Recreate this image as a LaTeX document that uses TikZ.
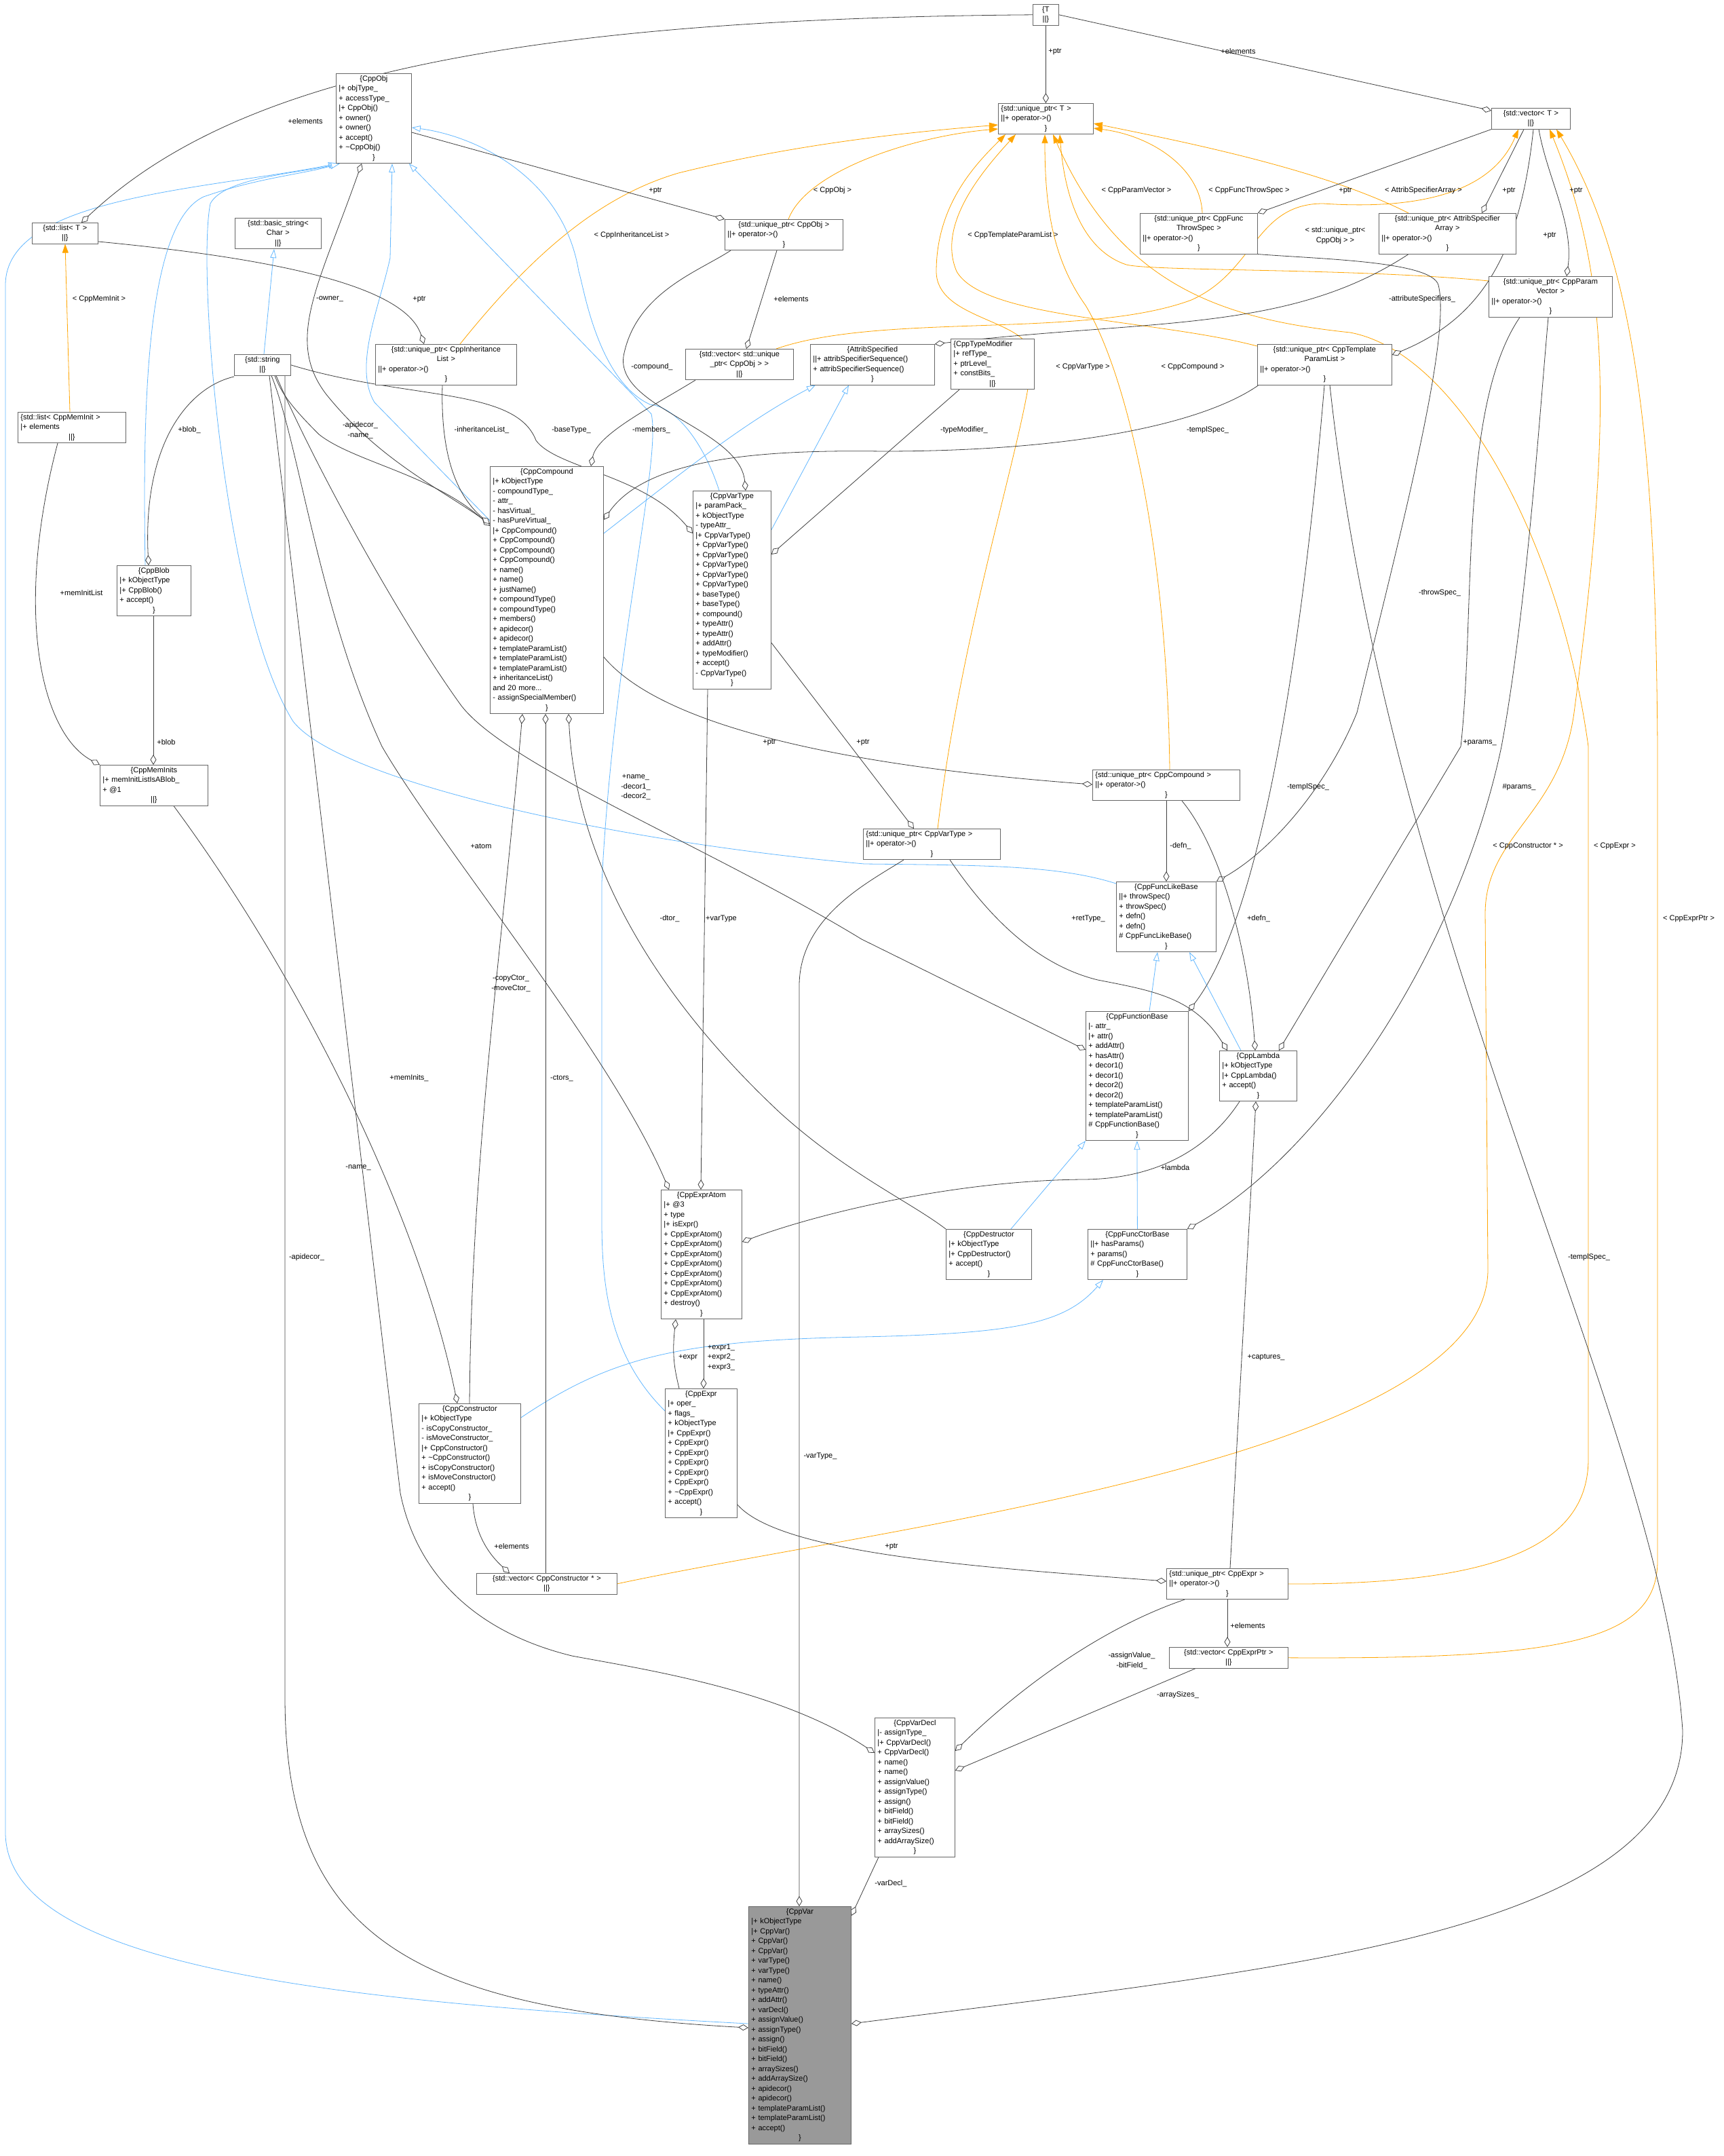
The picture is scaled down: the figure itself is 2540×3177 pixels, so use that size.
\documentclass[tikz,border=0pt]{standalone}
\usepackage{fontspec}
\setmainfont{Liberation Sans}
\usetikzlibrary{arrows.meta,backgrounds}
\newcommand\cl[1]{\makebox[\hsize][c]{#1}}
\definecolor{lk}{HTML}{404040}
\definecolor{lb}{HTML}{63B8FF}
\definecolor{lo}{HTML}{FFA500}
\begin{document}
\begin{tikzpicture}[x=1pt,y=-1pt,
 every node/.style={font=\fontsize{11}{14.5}\selectfont},
 box/.style={draw=black!60, fill=white, inner xsep=4pt, inner ysep=3pt, anchor=north west, align=left, line width=0.8pt},
 lbl/.style={align=center, inner sep=0pt},
 agg/.style={draw=lk, line width=0.8pt, {Diamond[open,length=15pt,width=9pt,fill=white]}-},
 inh/.style={draw=lb, line width=0.8pt, -{Triangle[open,length=13pt,width=9pt,fill=white]}},
 tmpl/.style={draw=lo, line width=0.8pt, -{Triangle[length=13pt,width=9pt]}}]
\useasboundingbox (0,0) rectangle (2540,3177);

% ---------- nodes ----------
\node[box,text width=30pt] (T) at (1522,6) {\cl{\{T}\\\cl{||\}}};
\node[box,text width=132pt] (uptrT) at (1471,152) {\{std::unique\_ptr< T >\\||+ operator->()\\\cl{\}}};
\node[box,text width=108pt] (vectorT) at (2198,159) {\cl{\{std::vector< T >}\\\cl{||\}}};
\node[box,text width=89pt] (listT) at (47,328) {\cl{\{std::list< T >}\\\cl{||\}}};
\node[box,text width=119pt] (bstr) at (346,321) {\cl{\{std::basic\_string<}\\\cl{Char >}\\\cl{||\}}};
\node[box,text width=103pt] (CppObj) at (495,108) {\cl{\{CppObj}\\|+ objType\_\\+ accessType\_\\|+ CppObj()\\+ owner()\\+ owner()\\+ accept()\\+ \textasciitilde CppObj()\\\cl{\}}};
\node[box,text width=166pt] (uptrObj) at (1068,323) {\cl{\{std::unique\_ptr< CppObj >}\\||+ operator->()\\\cl{\}}};
\node[box,text width=165pt] (uptrTS) at (1680,314) {\cl{\{std::unique\_ptr< CppFunc}\\\cl{ThrowSpec >}\\||+ operator->()\\\cl{\}}};
\node[box,text width=194pt] (uptrASA) at (2032,314) {\cl{\{std::unique\_ptr< AttribSpecifier}\\\cl{Array >}\\||+ operator->()\\\cl{\}}};
\node[box,text width=174pt] (uptrPV) at (2194,407) {\cl{\{std::unique\_ptr< CppParam}\\\cl{Vector >}\\||+ operator->()\\\cl{\}}};
\node[box,text width=200pt] (uptrInh) at (553,507) {\cl{\{std::unique\_ptr< CppInheritance}\\\cl{List >}\\||+ operator->()\\\cl{\}}};
\node[box,text width=75pt] (stdstr) at (345,522) {\cl{\{std::string}\\\cl{||\}}};
\node[box,text width=151pt] (vecObj) at (1010,514) {\cl{\{std::vector< std::unique}\\\cl{\_ptr< CppObj > >}\\\cl{||\}}};
\node[box,text width=175pt] (AttrSp) at (1194,507) {\cl{\{AttribSpecified}\\||+ attribSpecifierSequence()\\+ attribSpecifierSequence()\\\cl{\}}};
\node[box,text width=115pt] (TypeMod) at (1401,499) {\{CppTypeModifier\\|+ refType\_\\+ ptrLevel\_\\+ constBits\_\\\cl{||\}}};
\node[box,text width=190pt] (uptrTPL) at (1853,507) {\cl{\{std::unique\_ptr< CppTemplate}\\\cl{ParamList >}\\||+ operator->()\\\cl{\}}};
\node[box,text width=151pt] (listMI) at (26,607) {\{std::list< CppMemInit >\\|+ elements\\\cl{||\}}};
\node[box,text width=159pt] (Compound) at (722,687) {\cl{\{CppCompound}\\|+ kObjectType\\- compoundType\_\\- attr\_\\- hasVirtual\_\\- hasPureVirtual\_\\|+ CppCompound()\\+ CppCompound()\\+ CppCompound()\\+ CppCompound()\\+ name()\\+ name()\\+ justName()\\+ compoundType()\\+ compoundType()\\+ members()\\+ apidecor()\\+ apidecor()\\+ templateParamList()\\+ templateParamList()\\+ templateParamList()\\+ inheritanceList()\\and 20 more...\\- assignSpecialMember()\\\cl{\}}};
\node[box,text width=107pt] (VarType) at (1021,723) {\cl{\{CppVarType}\\|+ paramPack\_\\+ kObjectType\\- typeAttr\_\\|+ CppVarType()\\+ CppVarType()\\+ CppVarType()\\+ CppVarType()\\+ CppVarType()\\+ CppVarType()\\+ baseType()\\+ baseType()\\+ compound()\\+ typeAttr()\\+ typeAttr()\\+ addAttr()\\+ typeModifier()\\+ accept()\\- CppVarType()\\\cl{\}}};
\node[box,text width=101pt] (Blob) at (172,833) {\cl{\{CppBlob}\\|+ kObjectType\\|+ CppBlob()\\+ accept()\\\cl{\}}};
\node[box,text width=151pt] (MemInits) at (147,1127) {\cl{\{CppMemInits}\\|+ memInitListIsABlob\_\\+ @1\\\cl{||\}}};
\node[box,text width=209pt] (uptrComp) at (1610,1134) {\{std::unique\_ptr< CppCompound >\\||+ operator->()\\\cl{\}}};
\node[box,text width=194pt] (uptrVT) at (1272,1221) {\{std::unique\_ptr< CppVarType >\\||+ operator->()\\\cl{\}}};
\node[box,text width=139pt] (FLB) at (1645,1299) {\cl{\{CppFuncLikeBase}\\||+ throwSpec()\\+ throwSpec()\\+ defn()\\+ defn()\\\# CppFuncLikeBase()\\\cl{\}}};
\node[box,text width=143pt] (FB) at (1600,1490) {\cl{\{CppFunctionBase}\\|- attr\_\\|+ attr()\\+ addAttr()\\+ hasAttr()\\+ decor1()\\+ decor1()\\+ decor2()\\+ decor2()\\+ templateParamList()\\+ templateParamList()\\\# CppFunctionBase()\\\cl{\}}};
\node[box,text width=106pt] (Lambda) at (1797,1548) {\cl{\{CppLambda}\\|+ kObjectType\\|+ CppLambda()\\+ accept()\\\cl{\}}};
\node[box,text width=111pt] (ExprAtom) at (974,1753) {\cl{\{CppExprAtom}\\|+ @3\\+ type\\|+ isExpr()\\+ CppExprAtom()\\+ CppExprAtom()\\+ CppExprAtom()\\+ CppExprAtom()\\+ CppExprAtom()\\+ CppExprAtom()\\+ CppExprAtom()\\+ destroy()\\\cl{\}}};
\node[box,text width=118pt] (Dtor) at (1394,1811) {\cl{\{CppDestructor}\\|+ kObjectType\\|+ CppDestructor()\\+ accept()\\\cl{\}}};
\node[box,text width=138pt] (FCB) at (1603,1811) {\cl{\{CppFuncCtorBase}\\||+ hasParams()\\+ params()\\\# CppFuncCtorBase()\\\cl{\}}};
\node[box,text width=142pt] (Ctor) at (617,2068) {\cl{\{CppConstructor}\\|+ kObjectType\\- isCopyConstructor\_\\- isMoveConstructor\_\\|+ CppConstructor()\\+ \textasciitilde CppConstructor()\\+ isCopyConstructor()\\+ isMoveConstructor()\\+ accept()\\\cl{\}}};
\node[box,text width=98pt] (Expr) at (980,2046) {\cl{\{CppExpr}\\|+ oper\_\\+ flags\_\\+ kObjectType\\|+ CppExpr()\\+ CppExpr()\\+ CppExpr()\\+ CppExpr()\\+ CppExpr()\\+ CppExpr()\\+ \textasciitilde CppExpr()\\+ accept()\\\cl{\}}};
\node[box,text width=199pt] (vecCtor) at (702,2318) {\cl{\{std::vector< CppConstructor * >}\\\cl{||\}}};
\node[box,text width=171pt] (uptrExpr) at (1719,2311) {\{std::unique\_ptr< CppExpr >\\||+ operator->()\\\cl{\}}};
\node[box,text width=167pt] (vecEP) at (1723,2427) {\cl{\{std::vector< CppExprPtr >}\\\cl{||\}}};
\node[box,text width=110pt] (VarDecl) at (1289,2531) {\cl{\{CppVarDecl}\\|- assignType\_\\|+ CppVarDecl()\\+ CppVarDecl()\\+ name()\\+ name()\\+ assignValue()\\+ assignType()\\+ assign()\\+ bitField()\\+ bitField()\\+ arraySizes()\\+ addArraySize()\\\cl{\}}};
\node[box,text width=143pt,fill=black!40] (CppVar) at (1103,2809) {\cl{\{CppVar}\\|+ kObjectType\\|+ CppVar()\\+ CppVar()\\+ CppVar()\\+ varType()\\+ varType()\\+ name()\\+ typeAttr()\\+ addAttr()\\+ varDecl()\\+ assignValue()\\+ assignType()\\+ assign()\\+ bitField()\\+ bitField()\\+ arraySizes()\\+ addArraySize()\\+ apidecor()\\+ apidecor()\\+ templateParamList()\\+ templateParamList()\\+ accept()\\\cl{\}}};

\begin{scope}[on background layer]
\fill[white] (0,0) rectangle (2540,3177);
% ---------- template (orange) ----------
\draw[tmpl] ([xshift=77pt]listMI.north west) -- ([xshift=49pt]listT.south west);
\draw[tmpl] ([xshift=125pt]uptrInh.north west) .. controls (780,380) and (880,290) .. (1000,255) .. controls (1200,205) and (1400,190) .. ([yshift=-32pt]uptrT.north west);
\draw[tmpl] ([xshift=94pt]uptrObj.north west) .. controls (1190,250) and (1350,200) .. ([yshift=-38pt]uptrT.north west);
\draw[tmpl] ([xshift=110pt]uptrVT.north west) .. controls (1420,900) and (1525,600) .. (1520,520) .. controls (1510,470) and (1380,470) .. (1380,400) .. controls (1380,300) and (1440,240) .. ([xshift=11pt]uptrT.south west);
\draw[tmpl] ([yshift=-3pt]uptrTPL.north west) .. controls (1700,470) and (1450,470) .. (1410,400) .. controls (1380,330) and (1450,250) .. ([xshift=26pt]uptrT.south west);
\draw[tmpl] ([xshift=114pt]uptrComp.north west) .. controls (1720,800) and (1660,550) .. (1600,450) .. controls (1550,380) and (1540,300) .. ([xshift=69pt]uptrT.south west);
\draw[tmpl] (uptrExpr.east) .. controls (2200,2335) and (2341,2280) .. (2341,2150) -- (2341,1100) .. controls (2300,800) and (2150,520) .. (1990,490) .. controls (1800,470) and (1650,420) .. ([xshift=81pt]uptrT.south west);
\draw[tmpl] ([yshift=-7pt]uptrPV.north west) .. controls (2000,395) and (1700,400) .. (1660,390) .. controls (1600,370) and (1570,300) .. ([xshift=91pt]uptrT.south west);
\draw[tmpl] ([xshift=92pt]uptrTS.north west) .. controls (1770,250) and (1700,200) .. ([yshift=-37pt]uptrT.north east);
\draw[tmpl] ([xshift=44pt]uptrASA.north west) .. controls (1950,250) and (1750,210) .. ([yshift=-30pt]uptrT.north east);
\draw[tmpl] ([xshift=134pt]vecObj.north west) .. controls (1300,460) and (1600,500) .. (1756,442) .. controls (1850,400) and (1850,300) .. (1950,300) .. controls (2100,310) and (2200,280) .. ([xshift=40pt]vectorT.south west);
\draw[tmpl] (vecCtor.east) .. controls (1300,2250) and (2190,2150) .. (2193,1872) -- (2189,1345) .. controls (2190,1230) and (2300,1200) .. (2320,1050) .. controls (2380,600) and (2370,400) .. ([xshift=86pt]vectorT.south west);
\draw[tmpl] (vecEP.east) .. controls (2300,2445) and (2443,2420) .. (2443,2300) -- (2443,1100) .. controls (2440,700) and (2420,400) .. ([xshift=96pt]vectorT.south west);

% ---------- inheritance (blue) ----------
\draw[inh] ([yshift=-173pt]CppVar.north west) .. controls (500,2950) and (8,2900) .. (8,2700) -- (8,420) .. controls (8,290) and (300,280) .. ([xshift=2pt]CppObj.south west);
\draw[inh] ([xshift=42pt]Blob.north west) .. controls (210,600) and (215,330) .. (300,290) .. controls (380,262) and (450,256) .. ([xshift=4pt]CppObj.south west);
\draw[inh] ([yshift=-3pt]FLB.north west) .. controls (1560,1275) and (1450,1275) .. (1274,1273) .. controls (900,1240) and (500,1150) .. (432,1063) .. controls (330,900) and (290,400) .. (310,300) .. controls (330,262) and (440,255) .. ([xshift=6pt]CppObj.south west);
\draw[inh] ([yshift=-80pt]Compound.north west) -- (552,593) .. controls (520,540) and (560,450) .. (575,380) -- ([xshift=83pt]CppObj.south west);
\draw[inh] ([yshift=-33pt]Expr.north west) .. controls (900,2000) and (887,1900) .. (887,1800) -- (887,1300) .. controls (905,950) and (975,680) .. (960,610) -- ([xshift=-4pt]CppObj.south east);
\draw[inh] ([xshift=39pt]VarType.north west) .. controls (1040,660) and (1000,600) .. (958,596) .. controls (880,560) and (860,420) .. (853,400) .. controls (830,260) and (700,200) .. ([yshift=-80pt]CppObj.north east);
\draw[inh] ([xshift=44pt]stdstr.north west) -- ([xshift=58pt]bstr.south west);
\draw[inh] ([yshift=-99pt]Compound.north east) .. controls (1000,700) and (1100,620) .. ([xshift=8pt]AttrSp.south west);
\draw[inh] ([yshift=-58pt]VarType.north east) -- ([xshift=57pt]AttrSp.south west);
\draw[inh] ([xshift=94pt]FB.north west) -- ([xshift=61pt]FLB.south west);
\draw[inh] ([xshift=32pt]Lambda.north west) -- ([xshift=108pt]FLB.south west);
\draw[inh] ([xshift=96pt]Dtor.north west) -- (FB.south west);
\draw[inh] (FCB.north) -- (FB.south);
\draw[inh] ([yshift=-21pt]Ctor.north east) .. controls (900,2000) and (1000,1975) .. (1270,1970) .. controls (1500,1965) and (1570,1950) .. ([xshift=23pt]FCB.south west);

% ---------- aggregation (black) ----------
\draw[agg] ([xshift=73pt]listT.north west) .. controls (330,130) and (700,28) .. (T.west);
\draw[agg] (uptrT.north) -- (T.south);
\draw[agg] ([yshift=-4pt]vectorT.north west) -- (T.east);
\draw[agg] (uptrObj.north west) -- ([yshift=-87pt]CppObj.north east);
\draw[agg] ([xshift=72pt]uptrInh.north west) .. controls (600,430) and (450,385) .. ([yshift=-28pt]listT.north east);
\draw[agg] ([xshift=38pt]CppObj.south west) .. controls (470,420) and (420,500) .. (480,580) .. controls (560,680) and (650,720) .. ([yshift=-85pt]Compound.north west);
\draw[agg] ([xshift=90pt]vecObj.north west) -- ([xshift=77pt]uptrObj.south west);
\draw[agg] ([xshift=78pt]VarType.north west) .. controls (1090,630) and (900,600) .. (920,520) .. controls (940,430) and (1030,400) .. ([xshift=9pt]uptrObj.south west);
\draw[agg] ([xshift=149pt]Compound.north west) .. controls (880,640) and (960,600) .. ([xshift=15pt]vecObj.south west);
\draw[agg] ([xshift=47pt]Blob.north west) .. controls (210,650) and (280,570) .. ([yshift=-33pt]stdstr.north west);
\draw[agg] ([yshift=-88pt]Compound.north west) .. controls (640,700) and (520,680) .. (470,640) .. controls (430,600) and (415,580) .. ([xshift=60pt]stdstr.south west);
\draw[agg] ([yshift=-63pt]VarType.north west) .. controls (950,700) and (820,690) .. (790,649) .. controls (760,570) and (600,590) .. (stdstr.east);
\draw[agg] ([yshift=-85pt]Compound.north west) .. controls (660,720) and (650,640) .. ([xshift=99pt]uptrInh.south west);
\draw[agg] (MemInits.north west) .. controls (60,1080) and (20,900) .. ([xshift=59pt]listMI.south west);
\draw[agg] ([xshift=79pt]MemInits.north west) -- ([xshift=54pt]Blob.south west);
\draw[agg] (AttrSp.north east) .. controls (1700,470) and (1900,490) .. ([xshift=44pt]uptrASA.south west);
\draw[agg] ([yshift=-79pt]Compound.north east) .. controls (950,680) and (1100,662) .. (1300,665) .. controls (1600,665) and (1780,620) .. ([xshift=2pt]uptrTPL.south west);
\draw[agg] ([yshift=-94pt]VarType.north east) -- ([xshift=13pt]TypeMod.south west);
\draw[agg] ([yshift=-22pt]uptrComp.north west) .. controls (1400,1140) and (1000,1100) .. ([yshift=-281pt]Compound.north east);
\draw[agg] ([xshift=75pt]uptrVT.north west) -- ([yshift=-224pt]VarType.north east);
\draw[agg] (uptrTS.north east) -- (vectorT.south west);
\draw[agg] ([xshift=152pt]uptrASA.north west) -- ([xshift=48pt]vectorT.south west);
\draw[agg] ([xshift=115pt]uptrPV.north west) .. controls (2320,330) and (2280,260) .. ([xshift=70pt]vectorT.south west);
\draw[agg] ([yshift=-16pt]uptrTPL.north east) .. controls (2180,470) and (2240,380) .. ([xshift=62pt]vectorT.south west);
\draw[agg] (FLB.north east) .. controls (1880,1250) and (1960,1150) .. (2000,1050) .. controls (2060,800) and (2140,500) .. (2120,420) .. controls (2110,385) and (1950,382) .. (uptrTS.south east);
\draw[agg] (FB.north east) .. controls (1860,1350) and (1920,950) .. ([xshift=99pt]uptrTPL.south west);
\draw[agg] ([yshift=-173pt]CppVar.north east) .. controls (1900,2900) and (2480,2850) .. (2480,2550) .. controls (2450,2100) and (2050,1400) .. ([xshift=107pt]uptrTPL.south west);
\draw[agg] ([xshift=-27pt]Lambda.north east) -- (2153,1100) .. controls (2175,900) and (2150,600) .. ([xshift=46pt]uptrPV.south west);
\draw[agg] (FCB.north east) .. controls (1950,1700) and (2150,1400) .. (2213,1100) .. controls (2250,900) and (2270,600) .. ([xshift=88pt]uptrPV.south west);
\draw[agg] ([xshift=74pt]FLB.north west) -- ([xshift=109pt]uptrComp.south west);
\draw[agg] ([xshift=53pt]Lambda.north west) .. controls (1840,1400) and (1800,1250) .. ([xshift=132pt]uptrComp.south west);
\draw[agg] ([xshift=12pt]Lambda.north west) .. controls (1760,1470) and (1700,1460) .. (1618,1444) .. controls (1520,1420) and (1450,1340) .. ([xshift=128pt]uptrVT.south west);
\draw[agg] ([yshift=-57pt]FB.north west) -- (1270,1384) .. controls (1050,1250) and (750,1130) .. (680,1040) .. controls (600,930) and (470,700) .. ([xshift=62pt]stdstr.south west);
\draw[agg] ([yshift=-77pt]ExprAtom.north east) .. controls (1200,1790) and (1400,1740) .. (1594,1738) .. controls (1720,1738) and (1790,1680) .. ([xshift=30pt]Lambda.south west);
\draw[agg] ([xshift=12pt]ExprAtom.north west) .. controls (900,1550) and (650,1250) .. (563,1100) .. controls (470,900) and (440,650) .. ([xshift=55pt]stdstr.south west);
\draw[agg] ([xshift=59pt]ExprAtom.north west) -- ([xshift=22pt]VarType.south west);
\draw[agg] ([xshift=22pt]ExprAtom.south west) .. controls (990,2000) and (995,2020) .. ([xshift=21pt]Expr.north west);
\draw[agg] ([xshift=57pt]Expr.north west) -- ([xshift=63pt]ExprAtom.south west);
\draw[agg] ([xshift=116pt]Compound.south west) .. controls (850,1300) and (1000,1500) .. (1150,1640) .. controls (1250,1730) and (1340,1770) .. (Dtor.north west);
\draw[agg] ([xshift=48pt]Compound.south west) .. controls (740,1400) and (695,1700) .. ([xshift=75pt]Ctor.north west);
\draw[agg] ([xshift=82pt]Compound.south west) -- ([xshift=102pt]vecCtor.north west);
\draw[agg] ([xshift=57pt]Ctor.north west) .. controls (620,1800) and (450,1450) .. ([xshift=109pt]MemInits.south west);
\draw[agg] ([xshift=49pt]vecCtor.north west) .. controls (720,2290) and (700,2260) .. ([xshift=80pt]Ctor.south west);
\draw[agg] ([yshift=-19pt]uptrExpr.north west) .. controls (1450,2310) and (1150,2290) .. ([yshift=20pt]Expr.south east);
\draw[agg] ([xshift=54pt]Lambda.south west) -- ([xshift=94pt]uptrExpr.north west);
\draw[agg] ([xshift=86pt]vecEP.north west) -- ([xshift=90pt]uptrExpr.south west);
\draw[agg] ([yshift=-49pt]VarDecl.north east) .. controls (1500,2490) and (1620,2400) .. ([xshift=27pt]uptrExpr.south west);
\draw[agg] ([yshift=-78pt]VarDecl.north east) -- ([xshift=39pt]vecEP.south west);
\draw[agg] ([yshift=-52pt]VarDecl.north west) .. controls (1150,2490) and (950,2460) .. (843,2440) .. controls (680,2400) and (610,2300) .. (590,2200) -- ([xshift=52pt]stdstr.south west);
\draw[agg] ([yshift=-179pt]CppVar.north west) .. controls (600,2960) and (420,2850) .. (420,2500) -- ([xshift=75pt]stdstr.south west);
\draw[agg] ([xshift=75pt]CppVar.north west) -- (1178,1450) .. controls (1180,1350) and (1280,1300) .. ([xshift=60pt]uptrVT.south west);
\draw[agg] ([yshift=-14pt]CppVar.north east) -- ([xshift=6pt]VarDecl.south west);
\end{scope}

% ---------- labels ----------
\node[lbl] (a1) at (450,179) {+elements};
\node[lbl] (a2) at (966,281) {+ptr};
\node[lbl] (a3) at (1227,281) {< CppObj >};
\node[lbl] (a4) at (931,347) {< CppInheritanceList >};
\node[lbl] (a5) at (146,441) {< CppMemInit >};
\node[lbl] (a6) at (486,441) {-owner\_};
\node[lbl] (a7) at (618,441) {+ptr};
\node[lbl] (a8) at (1166,441) {+elements};
\node[lbl] (a9) at (961,541) {-compound\_};
\node[lbl] (a10) at (531,634) {-apidecor\_\\-name\_};
\node[lbl] (a11) at (710,634) {-inheritanceList\_};
\node[lbl] (a12) at (842,634) {-baseType\_};
\node[lbl] (a13) at (960,634) {-members\_};
\node[lbl] (a14) at (279,634) {+blob\_};
\node[lbl] (a15) at (120,874) {+memInitList};
\node[lbl] (a16) at (245,1094) {+blob};
\node[lbl] (a17) at (1134,1094) {+ptr};
\node[lbl] (a18) at (1272,1094) {+ptr};
\node[lbl] (b1) at (1555,76) {+ptr};
\node[lbl] (b2) at (1825,76) {+elements};
\node[lbl] (b3) at (1675,281) {< CppParamVector >};
\node[lbl] (b4) at (1841,281) {< CppFuncThrowSpec >};
\node[lbl] (b5) at (1983,281) {+ptr};
\node[lbl] (b6) at (2098,281) {< AttribSpecifierArray >};
\node[lbl] (b7) at (2224,281) {+ptr};
\node[lbl] (b8) at (2323,281) {+ptr};
\node[lbl] (b9) at (1493,347) {< CppTemplateParamList >};
\node[lbl] (b10) at (1968,347) {< std::unique\_ptr<\\CppObj > >};
\node[lbl] (b11) at (2284,347) {+ptr};
\node[lbl] (b12) at (2096,441) {-attributeSpecifiers\_};
\node[lbl] (b13) at (1596,541) {< CppVarType >};
\node[lbl] (b14) at (1758,541) {< CppCompound >};
\node[lbl] (b15) at (1421,634) {-typeModifier\_};
\node[lbl] (b16) at (1780,634) {-templSpec\_};
\node[lbl] (b17) at (2122,874) {-throwSpec\_};
\node[lbl] (b18) at (2181,1094) {+params\_};
\node[lbl] (c1) at (937,1160) {+name\_\\-decor1\_\\-decor2\_};
\node[lbl] (c2) at (709,1247) {+atom};
\node[lbl] (c3) at (987,1354) {-dtor\_};
\node[lbl] (c4) at (1063,1354) {+varType};
\node[lbl] (c5) at (753,1449) {-copyCtor\_\\-moveCtor\_};
\node[lbl] (c6) at (603,1589) {+memInits\_};
\node[lbl] (c7) at (828,1589) {-ctors\_};
\node[lbl] (c8) at (528,1721) {-name\_};
\node[lbl] (c9) at (452,1853) {-apidecor\_};
\node[lbl] (c10) at (1014,2000) {+expr};
\node[lbl] (c11) at (1063,2000) {+expr1\_\\+expr2\_\\+expr3\_};
\node[lbl] (c12) at (1209,2146) {-varType\_};
\node[lbl] (d1) at (1928,1160) {-templSpec\_};
\node[lbl] (d2) at (2239,1160) {\#params\_};
\node[lbl] (d3) at (1740,1247) {-defn\_};
\node[lbl] (d4) at (2252,1247) {< CppConstructor * >};
\node[lbl] (d5) at (2380,1247) {< CppExpr >};
\node[lbl] (d6) at (1604,1354) {+retType\_};
\node[lbl] (d7) at (1855,1354) {+defn\_};
\node[lbl] (d8) at (2489,1354) {< CppExprPtr >};
\node[lbl] (d9) at (1732,1721) {+lambda};
\node[lbl] (d10) at (2342,1853) {-templSpec\_};
\node[lbl] (d11) at (1866,2000) {+captures\_};
\node[lbl] (e1) at (754,2279) {+elements};
\node[lbl] (e2) at (1314,2279) {+ptr};
\node[lbl] (e3) at (1839,2396) {+elements};
\node[lbl] (e4) at (1668,2447) {-assignValue\_\\-bitField\_};
\node[lbl] (e5) at (1736,2498) {-arraySizes\_};
\node[lbl] (e6) at (1313,2776) {-varDecl\_};
\end{tikzpicture}
\end{document}
